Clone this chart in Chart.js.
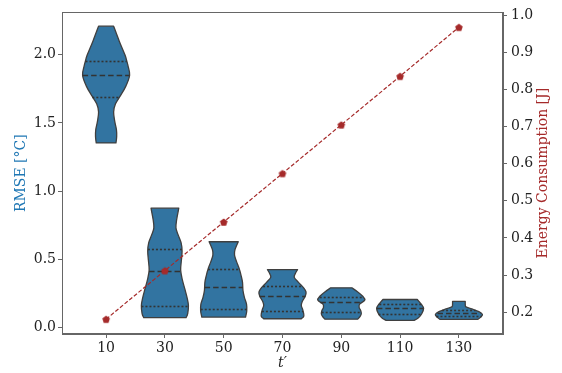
<!DOCTYPE html>
<html>
<head>
<meta charset="utf-8">
<script src="https://cdn.jsdelivr.net/npm/chart.js@4/dist/chart.umd.min.js"></script>
<style>
  html, body { margin: 0; padding: 0; background: #ffffff; }
  #wrap { width: 562px; height: 373px; }
</style>
</head>
<body>
<div id="wrap"><canvas id="chart" width="562" height="373"></canvas></div>
<script>
// Window length t' (x categories)
const categories = [10, 30, 50, 70, 90, 110, 130];

// Energy consumption per window length [J]
const energy = [0.181, 0.312, 0.443, 0.574, 0.705, 0.836, 0.968];

// RMSE quartiles per window length [°C]
const rmseQ1     = [1.693, 0.153, 0.136, 0.119, 0.113, 0.100, 0.082];
const rmseMedian = [1.852, 0.416, 0.294, 0.233, 0.185, 0.144, 0.107];
const rmseQ3     = [1.956, 0.574, 0.428, 0.303, 0.225, 0.173, 0.124];

// RMSE density outlines: [RMSE value, relative density width], bottom to top
const violin10 = [[1.353, 0.42], [1.40, 0.45], [1.45, 0.44], [1.51, 0.37], [1.58, 0.32], [1.64, 0.40],
                  [1.70, 0.61], [1.77, 0.84], [1.85, 1.00], [1.92, 0.93], [1.96, 0.87], [2.00, 0.80],
                  [2.10, 0.56], [2.21, 0.32]];
const violin30 = [[0.071, 0.90], [0.10, 0.97], [0.16, 1.00], [0.22, 0.94], [0.28, 0.85], [0.35, 0.74],
                  [0.42, 0.67], [0.49, 0.70], [0.56, 0.73], [0.62, 0.69], [0.68, 0.56], [0.73, 0.47],
                  [0.79, 0.50], [0.874, 0.59]];
const violin50 = [[0.075, 0.93], [0.12, 0.98], [0.17, 0.97], [0.22, 0.88], [0.27, 0.82], [0.33, 0.80],
                  [0.38, 0.74], [0.43, 0.66], [0.48, 0.55], [0.53, 0.46], [0.57, 0.48], [0.628, 0.62]];
const violin70 = [[0.063, 0.80], [0.08, 0.90], [0.10, 0.90], [0.13, 0.86], [0.16, 0.80], [0.19, 0.84],
                  [0.23, 0.97], [0.26, 1.00], [0.29, 0.90], [0.33, 0.68], [0.367, 0.50], [0.40, 0.56],
                  [0.423, 0.64]];
const violin90 = [[0.060, 0.70], [0.08, 0.80], [0.10, 0.85], [0.125, 0.82], [0.145, 0.76], [0.17, 0.78],
                  [0.20, 1.00], [0.23, 0.90], [0.26, 0.70], [0.29, 0.45]];
const violin110 = [[0.051, 0.60], [0.07, 0.78], [0.10, 0.92], [0.14, 1.00], [0.17, 0.90], [0.19, 0.80],
                   [0.204, 0.73]];
const violin130 = [[0.058, 0.80], [0.075, 0.93], [0.095, 1.00], [0.115, 0.85], [0.135, 0.55], [0.15, 0.30],
                   [0.17, 0.27], [0.19, 0.27]];
const violinProfiles = [violin10, violin30, violin50, violin70, violin90, violin110, violin130];

// Axis tick values
const rmseTicks = [0.0, 0.5, 1.0, 1.5, 2.0];
const energyTicks = [0.2, 0.3, 0.4, 0.5, 0.6, 0.7, 0.8, 0.9, 1.0];

const FONT = 'DejaVu Serif';
const SPINE = '#666666';
const VIOLIN_FILL = '#3274a1';
const VIOLIN_EDGE = '#3f3f3f';
const INNER_LINE = '#333333';
const ENERGY_COLOR = '#a52a2a';
const RMSE_COLOR = '#1f77b4';
const HALF_WIDTH = 0.4;

// Pentagon marker
function pentagon(r, color) {
  const size = Math.ceil(r * 2 + 2);
  const c = document.createElement('canvas');
  c.width = size; c.height = size;
  const g = c.getContext('2d');
  g.fillStyle = color;
  g.beginPath();
  for (let k = 0; k < 5; k++) {
    const a = -Math.PI / 2 + k * 2 * Math.PI / 5;
    const px = size / 2 + r * Math.cos(a), py = size / 2 + r * Math.sin(a) + 0.4;
    k ? g.lineTo(px, py) : g.moveTo(px, py);
  }
  g.closePath();
  g.fill();
  return c;
}

// Smooth curve through points (Catmull-Rom as cubic Béziers)
function smoothTo(ctx, pts, start) {
  if (start) ctx.moveTo(pts[0].x, pts[0].y); else ctx.lineTo(pts[0].x, pts[0].y);
  for (let i = 0; i < pts.length - 1; i++) {
    const p0 = pts[Math.max(i - 1, 0)], p1 = pts[i], p2 = pts[i + 1], p3 = pts[Math.min(i + 2, pts.length - 1)];
    ctx.bezierCurveTo(p1.x + (p2.x - p0.x) / 6, p1.y + (p2.y - p0.y) / 6,
                      p2.x - (p3.x - p1.x) / 6, p2.y - (p3.y - p1.y) / 6,
                      p2.x, p2.y);
  }
}

function widthAt(profile, v) {
  for (let i = 0; i < profile.length - 1; i++) {
    const [v0, w0] = profile[i], [v1, w1] = profile[i + 1];
    if (v >= v0 && v <= v1) return w0 + (w1 - w0) * (v - v0) / (v1 - v0);
  }
  return profile[profile.length - 1][1];
}

const violinPlugin = {
  id: 'violins',
  beforeDatasetsDraw(chart) {
    const { ctx, scales: { x, y } } = chart;
    ctx.save();
    violinProfiles.forEach((profile, i) => {
      const right = profile.map(([v, w]) => ({ x: x.getPixelForValue(i + w * HALF_WIDTH), y: y.getPixelForValue(v) }));
      const left = profile.map(([v, w]) => ({ x: x.getPixelForValue(i - w * HALF_WIDTH), y: y.getPixelForValue(v) })).reverse();
      ctx.beginPath();
      smoothTo(ctx, right, true);
      smoothTo(ctx, left, false);
      ctx.closePath();
      ctx.fillStyle = VIOLIN_FILL;
      ctx.fill();
      ctx.lineWidth = 1.3;
      ctx.strokeStyle = VIOLIN_EDGE;
      ctx.lineJoin = 'round';
      ctx.stroke();

      const inner = [[rmseQ1[i], [2, 2]], [rmseMedian[i], [5.5, 3]], [rmseQ3[i], [2, 2]]];
      inner.forEach(([v, dash]) => {
        const w = widthAt(profile, v) * HALF_WIDTH;
        const py = Math.round(y.getPixelForValue(v)) + 0.5;
        ctx.beginPath();
        ctx.setLineDash(dash);
        ctx.moveTo(x.getPixelForValue(i - w), py);
        ctx.lineTo(x.getPixelForValue(i + w), py);
        ctx.lineWidth = 1.6;
        ctx.strokeStyle = INNER_LINE;
        ctx.stroke();
      });
      ctx.setLineDash([]);
    });
    ctx.restore();
  },
  afterDraw(chart) {
    const { ctx, chartArea: a } = chart;
    ctx.save();
    ctx.strokeStyle = SPINE;
    ctx.lineWidth = 1;
    ctx.strokeRect(Math.round(a.left) + 0.5, Math.round(a.top) + 0.5,
                   Math.round(a.right - a.left) - 1, Math.round(a.bottom - a.top) - 1);
    // right axis title, reading bottom to top
    const sx = chart.scales.y2;
    ctx.translate(sx.right - 19, (a.top + a.bottom) / 2);
    ctx.rotate(-Math.PI / 2);
    ctx.font = `14px "${FONT}"`;
    ctx.fillStyle = ENERGY_COLOR;
    ctx.textAlign = 'center';
    ctx.textBaseline = 'middle';
    ctx.fillText('Energy Consumption [J]', 0, 0);
    ctx.restore();
  }
};

const tickFont = { family: FONT, size: 14 };

new Chart(document.getElementById('chart'), {
  type: 'line',
  data: {
    datasets: [{
      label: 'Energy Consumption',
      data: categories.map((c, i) => ({ x: i, y: energy[i] })),
      yAxisID: 'y2',
      borderColor: ENERGY_COLOR,
      borderWidth: 1.2,
      borderDash: [4, 2],
      pointStyle: pentagon(4, ENERGY_COLOR),
      pointRadius: 4,
      pointHoverRadius: 4,
      tension: 0,
      fill: false
    }]
  },
  options: {
    responsive: false,
    animation: false,
    devicePixelRatio: 1,
    layout: { padding: { top: 10, left: 0, right: 0, bottom: 0 } },
    plugins: { legend: { display: false }, tooltip: { enabled: false } },
    scales: {
      x: {
        type: 'linear',
        min: -0.75, max: 6.75,
        afterBuildTicks: s => { s.ticks = categories.map((c, i) => ({ value: i })); },
        afterFit: s => { s.height = 39; },
        ticks: { callback: v => String(categories[v]), font: tickFont, color: '#222', padding: 2, maxRotation: 0 },
        grid: { display: true, drawOnChartArea: false, drawTicks: true, tickLength: 4, color: SPINE },
        border: { display: true, color: SPINE },
        title: { display: true, text: 't′', font: { family: FONT, size: 14, style: 'italic' }, color: '#222', padding: { top: 0, bottom: 1 } }
      },
      y: {
        position: 'left',
        min: -0.049, max: 2.311,
        afterBuildTicks: s => { s.ticks = rmseTicks.map(v => ({ value: v })); },
        afterFit: s => { s.width = 62; },
        ticks: { callback: v => v.toFixed(1), font: tickFont, color: '#222', padding: 2 },
        grid: { display: true, drawOnChartArea: false, drawTicks: true, tickLength: 4, color: SPINE },
        border: { display: true, color: SPINE },
        title: { display: true, text: 'RMSE [°C]', font: { family: FONT, size: 14 }, color: RMSE_COLOR, padding: { top: 13, bottom: 0 } }
      },
      y2: {
        position: 'right',
        min: 0.141, max: 1.008,
        afterBuildTicks: s => { s.ticks = energyTicks.map(v => ({ value: v })); },
        afterFit: s => { s.width = 59; },
        ticks: { callback: v => v.toFixed(1), font: tickFont, color: '#222', padding: 4 },
        grid: { display: true, drawOnChartArea: false, drawTicks: true, tickLength: 4, color: SPINE },
        border: { display: true, color: SPINE },
        title: { display: false }
      }
    }
  },
  plugins: [violinPlugin]
});
</script>
</body>
</html>
